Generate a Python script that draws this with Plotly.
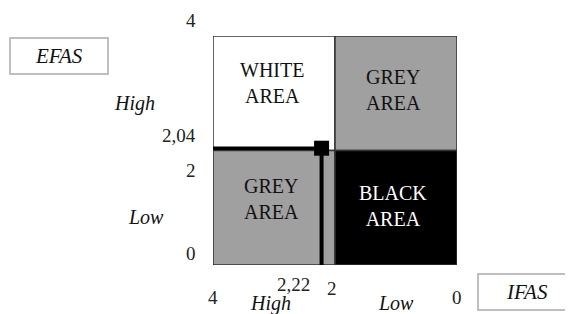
import plotly.graph_objects as go

# ---- data ----
bounds = [0, 2, 4]                       # quadrant boundaries on both axes
quad_labels = ["WHITE<br>AREA", "GREY<br>AREA", "GREY<br>AREA", "BLACK<br>AREA"]
quad_fills = ["#ffffff", "#a0a0a0", "#a0a0a0", "#000000"]
quad_text_colors = ["#111111", "#111111", "#111111", "#ffffff"]
ifas_score = [2.22]
efas_score = [2.04]
y_tick_vals = [4, 2.04, 2, 0]
y_tick_text = ["4", "2,04", "2", "0"]
x_tick_vals = [4, 2.22, 2, 0]
x_tick_text = ["4", "2,22", "2", "0"]

W, H = 573, 314
OFF = 8  # page body margin offset
# plot area in screen pixels: x 213..457, y 36..265
SL, SR, ST, SB = 213, 457, 36, 265
L, T = SL - OFF, ST - OFF
R = W - (SR - OFF)
B = H - (SB - OFF)
PW, PH = SR - SL, SB - ST


def px(xs):
    return (xs - SL) / PW


def py(ys):
    return (SB - ys) / PH


FONT = "Liberation Serif"

fig = go.Figure()

quads = [
    (bounds[2], bounds[1], bounds[1], bounds[2]),  # top-left  White
    (bounds[1], bounds[0], bounds[1], bounds[2]),  # top-right Grey
    (bounds[2], bounds[1], bounds[0], bounds[1]),  # bottom-left Grey
    (bounds[1], bounds[0], bounds[0], bounds[1]),  # bottom-right Black
]
text_shift_y = [10, 3, 9, 2]
text_shift_x = [-2, -3, -3, -3]
shapes = []
annotations = []
for (x0, x1, y0, y1), lab, fc, tc, sy, sx in zip(quads, quad_labels, quad_fills,
                                                 quad_text_colors, text_shift_y, text_shift_x):
    shapes.append(dict(type="rect", xref="x", yref="y", x0=x0, x1=x1, y0=y0, y1=y1,
                       fillcolor=fc, line=dict(color="#333333", width=1.5), layer="below"))
    annotations.append(dict(x=(x0 + x1) / 2, y=(y0 + y1) / 2, xref="x", yref="y",
                            text=lab, showarrow=False, yshift=sy, xshift=sx,
                            font=dict(family=FONT, size=20, color=tc)))

# position lines and marker
fig.add_trace(go.Scatter(x=[bounds[2], ifas_score[0]], y=[efas_score[0], efas_score[0]],
                         mode="lines", line=dict(color="black", width=3.5),
                         hoverinfo="skip", showlegend=False))
fig.add_trace(go.Scatter(x=[ifas_score[0], ifas_score[0]], y=[efas_score[0], bounds[0]],
                         mode="lines", line=dict(color="black", width=4),
                         hoverinfo="skip", showlegend=False))
fig.add_trace(go.Scatter(x=ifas_score, y=efas_score, mode="markers",
                         marker=dict(symbol="square", size=15, color="black"),
                         showlegend=False))

# y tick labels (left side)
y_shifts = [16, 13, -20, 12]
for v, t, s in zip(y_tick_vals, y_tick_text, y_shifts):
    annotations.append(dict(x=px(198), y=v, xref="paper", yref="y", text=t,
                            showarrow=False, xanchor="right", yshift=s,
                            font=dict(family=FONT, size=19, color="#222222")))
# x tick labels (bottom)
x_label_y = [297, 284, 288, 297]
x_label_px = [213, 293, 332, 457]
for v, t, xs, ys in zip(x_tick_vals, x_tick_text, x_label_px, x_label_y):
    annotations.append(dict(x=px(xs), y=py(ys), xref="paper", yref="paper", text=t,
                            showarrow=False, xanchor="center", yanchor="middle",
                            font=dict(family=FONT, size=19, color="#222222")))

# High / Low labels
for txt, xs, ys in [("High", 134, 103), ("Low", 146, 217), ("High", 270, 303), ("Low", 396, 303)]:
    annotations.append(dict(x=px(xs), y=py(ys), xref="paper", yref="paper", text=txt,
                            showarrow=False, xanchor="center", yanchor="middle",
                            font=dict(family=FONT, size=20, color="#111111",
                                      style="italic")))

# EFAS / IFAS boxes
for txt, x0, x1, y0, y1, cx in [("EFAS", 10, 108, 38, 74, 59), ("IFAS", 478, 590, 274, 310, 527)]:
    shapes.append(dict(type="rect", xref="paper", yref="paper",
                       x0=px(x0), x1=px(x1), y0=py(y1), y1=py(y0),
                       fillcolor="white", line=dict(color="#aaaaaa", width=1.5)))
    annotations.append(dict(x=px(cx), y=py((y0 + y1) / 2), xref="paper", yref="paper",
                            text=txt, showarrow=False, xanchor="center", yanchor="middle",
                            font=dict(family=FONT, size=21, color="#111111",
                                      style="italic")))

fig.update_layout(
    width=W, height=H,
    margin=dict(l=L, r=R, t=T, b=B),
    paper_bgcolor="white", plot_bgcolor="white",
    xaxis=dict(range=[bounds[2], bounds[0]], visible=False, fixedrange=True),
    yaxis=dict(range=[bounds[0], bounds[2]], visible=False, fixedrange=True),
    shapes=shapes, annotations=annotations, showlegend=False,
)

fig.write_html("out.html")
